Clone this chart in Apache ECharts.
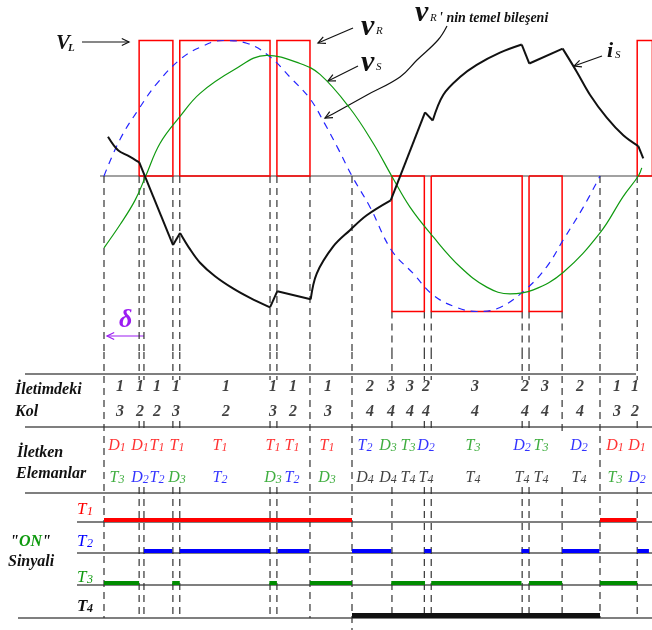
<!DOCTYPE html>
<html>
<head>
<meta charset="utf-8">
<style>
html, body { margin: 0; padding: 0; background: #fff; }
#chart { width: 652px; height: 630px; }
</style>
<script src="https://cdn.jsdelivr.net/npm/echarts@6/dist/echarts.min.js"></script>
</head>
<body>
<div id="chart"></div>
<script>
// ---- data (angles in degrees, voltages/current in per-unit of the pulse height) ----

// switching instants = the dashed vertical lines
const switchAngles = [0, 25.5, 29, 50, 55, 120.5, 125.5, 149.5, 180, 209, 232.5, 237.5, 303.5, 308.5, 332.5, 360, 387]

// v_R pulses: [start, end, level]
const vrPulses = [[25.5, 50, 1], [55, 120.5, 1], [125.5, 149.5, 1], [209, 232.5, -1], [237.5, 303.5, -1], [308.5, 332.5, -1], [387, 398, 1]]

// fundamental of v_R (blue dashed)
const fundDeg = [0, 11.6, 25.6, 38.2, 55.2, 69.7, 86.6, 103.6, 120.5, 135, 149.5, 160, 170, 180, 193.1, 208.8, 224.5, 239, 256, 270.5, 287.4, 306.8, 321.3, 333.4, 347.9, 360]
const fundVal = [0, 0.27, 0.50, 0.68, 0.86, 0.95, 1.0, 0.98, 0.88, 0.73, 0.57, 0.39, 0.2, 0, -0.23, -0.55, -0.72, -0.88, -0.97, -1.0, -0.97, -0.83, -0.67, -0.47, -0.23, 0]

// source voltage v_S (green)
const vsDeg = [0, 11.6, 22.5, 30.3, 40.6, 55.2, 69.7, 93.8, 118.1, 142.3, 156.8, 178.5, 195.5, 208.8, 222.1, 239, 258.4, 277.8, 294.7, 311.6, 333.4, 360, 376.9, 387.8, 390.3]
const vsVal = [-0.53, -0.36, -0.18, 0, 0.24, 0.44, 0.61, 0.78, 0.89, 0.83, 0.75, 0.50, 0.24, 0, -0.23, -0.45, -0.67, -0.82, -0.87, -0.84, -0.71, -0.42, -0.15, 0, 0.06]

// source current i_S (black), with the indices where the curve has corners
const isDeg = [2.9, 10.2, 17.4, 25.6, 50.1, 55.2, 62.4, 69.7, 80.6, 93.6, 106, 120.5, 125.8, 150, 154.4, 166.4, 178.5, 190.7, 208.1, 233, 238.6, 246.3, 258.4, 270.5, 287.4, 303.2, 308.7, 332.9, 343.1, 352.7, 364.9, 376.9, 387.8, 391.4]
const isVal = [0.29, 0.19, 0.15, 0.10, -0.51, -0.42, -0.54, -0.64, -0.74, -0.83, -0.90, -0.97, -0.85, -0.91, -0.72, -0.52, -0.40, -0.29, -0.18, 0.47, 0.41, 0.60, 0.73, 0.82, 0.91, 0.97, 0.83, 0.94, 0.77, 0.60, 0.43, 0.30, 0.22, 0.13]
const isCorners = [3, 4, 5, 11, 12, 13, 18, 19, 20, 25, 26, 27, 32]

// "ON" intervals of the switches
const onT1 = [[0, 180], [360, 386.5]]
const onT2 = [[29, 49.5], [55, 120.5], [126, 149], [180, 208.5], [232.5, 237.5], [303, 308.5], [332.5, 359.5], [387, 395.5]]
const onT3 = [[0, 25.5], [49.5, 55], [120, 125.5], [149.5, 180], [208.5, 233], [237.5, 303], [308.5, 332.5], [360, 387]]
const onT4 = [[180, 360]]

// "İletimdeki Kol" rows
const legX = [11.6, 26.1, 38.5, 52.3, 88.5, 122.7, 137.2, 162.6, 193.1, 208.3, 222.1, 233.7, 269.3, 305.6, 320.1, 345.5, 372.3, 385.4]
const legTop = ['1', '1', '1', '1', '1', '1', '1', '1', '2', '3', '3', '2', '3', '2', '3', '2', '1', '1']
const legBottom = ['3', '2', '2', '3', '2', '3', '2', '3', '4', '4', '4', '4', '4', '4', '4', '4', '3', '2']

// "İletken Elemanlar" rows
const devX = [9.4, 26.1, 38.5, 53, 84.2, 122.7, 136.5, 161.9, 189.4, 206.1, 220.6, 233.7, 267.8, 303.4, 317.2, 344.8, 370.9, 386.9]
const devTop = ['D1', 'D1', 'T1', 'T1', 'T1', 'T1', 'T1', 'T1', 'T2', 'D3', 'T3', 'D2', 'T3', 'D2', 'T3', 'D2', 'D1', 'D1']
const devBottom = ['T3', 'D2', 'T2', 'D3', 'T2', 'D3', 'T2', 'D3', 'D4', 'D4', 'T4', 'T4', 'T4', 'T4', 'T4', 'T4', 'T3', 'D2']

// ---- layout ----
const PX_PER_DEG = 248 / 180
const X0 = 104
const xMin = -X0 / PX_PER_DEG
const xMax = (652 - X0) / PX_PER_DEG
const V_SPAN = 176 / 135.5

const SERIF = "'Liberation Serif', 'DejaVu Serif', serif"
const RED = '#ff0000'
const BLUE = '#0000ff'
const GREEN = '#109a10'
const BLACK = '#111111'
const PURPLE = '#9b1cf2'
const DASH_COLOR = '#333333'
const devColors = {1: RED, 2: BLUE, 3: GREEN, 4: BLACK}

const ROW = {legTop: 387, legBottom: 412, devTop: 445, devBottom: 477}
const ON_BASE = [522, 553, 585, 618]
const TABLE_TOP = 352
const fullTableLines = [0, 149.5, 180, 360]
const fullRow1Lines = [332.5]

const chart = echarts.init(document.getElementById('chart'), null, {renderer: 'canvas'})

function linesSeries(grid, coordsList, lineStyle, z) {
    return {
        type: 'lines',
        coordinateSystem: 'cartesian2d',
        xAxisIndex: grid,
        yAxisIndex: grid,
        polyline: true,
        silent: true,
        z: z || 2,
        lineStyle: Object.assign({opacity: 1, curveness: 0}, lineStyle),
        data: coordsList.map(c => ({coords: c}))
    }
}

function curveSeries(xs, ys, lineStyle, smooth, z) {
    return {
        type: 'line',
        xAxisIndex: 0,
        yAxisIndex: 0,
        symbol: 'none',
        smooth: smooth,
        silent: true,
        z: z || 3,
        lineStyle: lineStyle,
        data: xs.map((x, i) => [x, ys[i]])
    }
}

function currentSeries() {
    const cuts = [0].concat(isCorners, [isDeg.length - 1])
    const list = []
    for (let k = 0; k < cuts.length - 1; k++) {
        const xs = isDeg.slice(cuts[k], cuts[k + 1] + 1)
        const ys = isVal.slice(cuts[k], cuts[k + 1] + 1)
        list.push(curveSeries(xs, ys, {color: BLACK, width: 2}, xs.length > 2 ? 0.35 : false, 5))
    }
    return list
}

function pulseRects() {
    return vrPulses.map(p => [[p[0], 0], [p[0], p[2]], [p[1], p[2]], [p[1], 0], [p[0], 0]])
}

function negativeEdge(a) {
    return vrPulses.some(p => p[2] < 0 && (p[0] === a || p[1] === a))
}

function waveDashes() {
    return switchAngles.map(a => [[a, negativeEdge(a) ? -1 : 0], [a, -V_SPAN]])
}

function tableDashes() {
    const segs = []
    switchAngles.forEach(a => {
        let parts
        if (fullTableLines.includes(a)) {
            parts = [[TABLE_TOP, a === 180 ? 630 : 618]]
        } else if (fullRow1Lines.includes(a)) {
            parts = [[TABLE_TOP, 433], [487, 618]]
        } else {
            parts = [[TABLE_TOP, 380], [421, 433], [487, 618]]
        }
        parts.forEach(p => segs.push([[a, p[0]], [a, p[1]]]))
    })
    return segs
}

function onBars(intervals, row, color, width) {
    const y = ON_BASE[row] - width / 2
    return linesSeries(1, intervals.map(iv => [[iv[0], y], [iv[1], y]]), {color: color, width: width}, 4)
}

function richStyles() {
    const rich = {}
    for (const n in devColors) {
        rich['m' + n] = {fontFamily: SERIF, fontStyle: 'italic', fontSize: 16, color: devColors[n], lineHeight: 18, verticalAlign: 'bottom'}
        rich['s' + n] = {fontFamily: SERIF, fontStyle: 'italic', fontSize: 12, color: devColors[n], lineHeight: 18, verticalAlign: 'bottom', padding: [0, 0, 0, 0]}
    }
    rich.num = {fontFamily: SERIF, fontStyle: 'italic', fontWeight: 'bold', fontSize: 16, color: BLACK}
    return rich
}

function textSeries(xs, y, texts, formatter) {
    return {
        type: 'scatter',
        xAxisIndex: 1,
        yAxisIndex: 1,
        symbolSize: 1,
        silent: true,
        z: 6,
        itemStyle: {color: 'rgba(0,0,0,0)'},
        label: {
            show: true,
            position: 'inside',
            formatter: p => formatter(texts[p.dataIndex]),
            rich: richStyles()
        },
        data: xs.map(x => [x, y])
    }
}

const devFormat = name => '{m' + name[1] + '|' + name[0] + '}{s' + name[1] + '|' + name[1] + '}'
const numFormat = s => '{num|' + s + '}'

// ---- annotations (pixel space) ----
function arrowHead(to, from, color) {
    const ang = Math.atan2(to[1] - from[1], to[0] - from[0])
    const len = 8
    const spread = 0.45
    return {
        type: 'polyline',
        shape: {points: [
            [to[0] - len * Math.cos(ang - spread), to[1] - len * Math.sin(ang - spread)],
            to,
            [to[0] - len * Math.cos(ang + spread), to[1] - len * Math.sin(ang + spread)]
        ]},
        style: {stroke: color, lineWidth: 1.2, fill: 'none'}
    }
}

function arrow(from, to, color) {
    return [
        {type: 'line', shape: {x1: from[0], y1: from[1], x2: to[0], y2: to[1]}, style: {stroke: color, lineWidth: 1.2}},
        arrowHead(to, from, color)
    ]
}

function label(text, x, y, size, color, opts) {
    const o = opts || {}
    return {
        type: 'text',
        x: x,
        y: y,
        z: 10,
        style: {
            text: text,
            fill: color || BLACK,
            font: (o.italic === false ? '' : 'italic ') + (o.bold === false ? '' : 'bold ') + size + 'px ' + SERIF,
            textAlign: o.align || 'left',
            textVerticalAlign: 'middle'
        }
    }
}

const rules = [[374, 25, 636], [427, 25, 652], [493, 25, 652], [522, 77, 652], [553, 77, 652], [585, 77, 652], [618, 18, 652]]

const temelCurve = [[447, 26], [438, 40], [417, 60], [400, 77], [367, 95], [340, 110], [325, 118]]

const graphics = []
rules.forEach(r => graphics.push({type: 'line', z: 1, shape: {x1: r[1], y1: r[0], x2: r[2], y2: r[0]}, style: {stroke: '#555', lineWidth: 1.3}}))
graphics.push(...arrow([82, 42], [129, 42], BLACK))
graphics.push(...arrow([353, 28], [318, 43], BLACK))
graphics.push(...arrow([358, 66], [328, 81], BLACK))
graphics.push(...arrow([602, 56], [574, 66], BLACK))
graphics.push(...arrow([144, 336], [107, 336], PURPLE))
graphics.push({type: 'polyline', shape: {points: temelCurve, smooth: 0.4}, style: {stroke: BLACK, lineWidth: 1.2, fill: 'none'}})
graphics.push(arrowHead(temelCurve[temelCurve.length - 1], temelCurve[temelCurve.length - 2], BLACK))

graphics.push(label('V', 56, 44, 21))
graphics.push(label('L', 68, 48, 11))
graphics.push(label('ν', 361, 27, 30))
graphics.push(label('R', 376, 31, 11, BLACK, {bold: false}))
graphics.push(label('ν', 361, 63, 30))
graphics.push(label('S', 376, 67, 11, BLACK, {bold: false}))
graphics.push(label('ν', 415, 13, 30))
graphics.push(label('R', 430, 18, 11, BLACK, {bold: false}))
graphics.push(label("' nin temel bileşeni", 439, 18, 14))
graphics.push(label('i', 607, 51, 22))
graphics.push(label('S', 615, 55, 11, BLACK, {bold: false}))
graphics.push(label('δ', 119, 320, 26, PURPLE))

graphics.push(label('İletimdeki', 15, 390, 16))
graphics.push(label('Kol', 15, 412, 16))
graphics.push(label('İletken', 17, 453, 16))
graphics.push(label('Elemanlar', 16, 474, 16))
graphics.push({
    type: 'text', x: 10, y: 542, z: 10,
    style: {
        text: '{q|"}{on|ON}{q|"}',
        textVerticalAlign: 'middle',
        rich: {
            q: {font: 'italic bold 16px ' + SERIF, fill: BLACK},
            on: {font: 'italic bold 16px ' + SERIF, fill: GREEN}
        }
    }
})
graphics.push(label('Sinyali', 8, 562, 16))

const tLabels = [['T', '1', RED, 510], ['T', '2', BLUE, 542], ['T', '3', GREEN, 578], ['T', '4', BLACK, 607]]
tLabels.forEach((t, i) => {
    const bold = i === 3
    graphics.push(label(t[0], 77, t[3], 17, t[2], {bold: bold}))
    graphics.push(label(t[1], 87, t[3] + 2, 12, t[2], {bold: bold}))
})

const option = {
    animation: false,
    backgroundColor: '#fff',
    grid: [
        {left: 0, right: 0, top: 0, height: 352},
        {left: 0, right: 0, top: 0, height: 630}
    ],
    xAxis: [
        {gridIndex: 0, type: 'value', min: xMin, max: xMax, show: false},
        {gridIndex: 1, type: 'value', min: xMin, max: xMax, show: false}
    ],
    yAxis: [
        {gridIndex: 0, type: 'value', min: -V_SPAN, max: V_SPAN, show: false},
        {gridIndex: 1, type: 'value', min: 0, max: 630, inverse: true, show: false}
    ],
    graphic: graphics,
    series: [
        // zero line of the waveforms
        linesSeries(0, [[[-2.9, 0], [xMax, 0]]], {color: '#444', width: 1.2}, 1),
        // v_R pulses
        linesSeries(0, pulseRects(), {color: RED, width: 1.5}, 2),
        // dashed switching lines
        linesSeries(0, waveDashes(), {color: DASH_COLOR, width: 1.2, type: [7, 5]}, 1),
        linesSeries(1, tableDashes(), {color: DASH_COLOR, width: 1.2, type: [7, 5]}, 1),
        // fundamental and source voltage
        curveSeries(fundDeg, fundVal, {color: '#2424ff', width: 1.2, type: [7, 6]}, 0.4, 3),
        curveSeries(vsDeg, vsVal, {color: GREEN, width: 1.2}, 0.4, 3),
        ...currentSeries(),
        // ON signals
        onBars(onT1, 0, RED, 4),
        onBars(onT2, 1, BLUE, 4),
        onBars(onT3, 2, '#008c00', 4),
        onBars(onT4, 3, BLACK, 5),
        // table texts
        textSeries(legX, ROW.legTop, legTop, numFormat),
        textSeries(legX, ROW.legBottom, legBottom, numFormat),
        textSeries(devX, ROW.devTop, devTop, devFormat),
        textSeries(devX, ROW.devBottom, devBottom, devFormat)
    ]
}

chart.setOption(option)
</script>
</body>
</html>
